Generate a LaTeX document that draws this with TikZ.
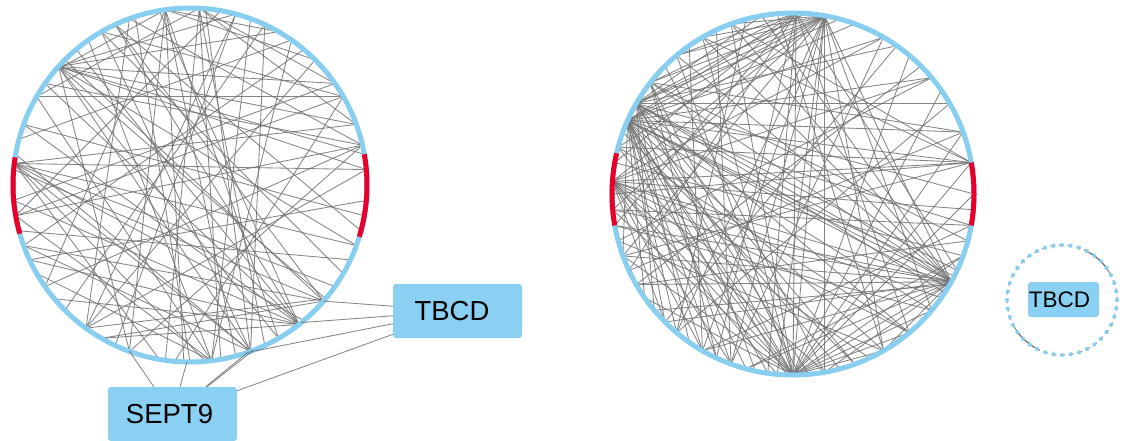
\documentclass[tikz,border=0pt]{standalone}
\usepackage{fontspec}
\setmainfont{Liberation Sans}
\definecolor{ringblue}{RGB}{135,206,240}
\definecolor{boxblue}{RGB}{137,208,242}
\definecolor{hotred}{RGB}{232,0,42}
\definecolor{edgegray}{RGB}{112,112,112}
\begin{document}
\begin{tikzpicture}[x=1pt,y=1pt,
  chord/.style={draw=edgegray,line width=0.85pt,opacity=0.85},
  ring/.style={draw=ringblue,line width=5pt},
  redarc/.style={draw=hotred,line width=5pt},
  genebox/.style={fill=boxblue,rounded corners=3pt,minimum width=129pt,minimum height=54pt,inner sep=0pt},
  smallbox/.style={fill=boxblue,rounded corners=3pt,minimum width=71pt,minimum height=35pt,inner sep=0pt}]
\useasboundingbox (0,0) rectangle (1128,-440);
\fill[white] (0,0) rectangle (1128,-440);

% ---------------- left cluster ----------------
\coordinate (cA) at (190,-185);
\foreach \i in {0,...,359} \coordinate (A\i) at ([shift={(\i:177)}]cA);

\foreach \b in {215,250,268,285,300,140,60,45}
  \draw[chord] (A98) -- (A\b);
\foreach \b in {262,280,295,150,35,20}
  \draw[chord] (A87) -- (A\b);
\foreach \b in {20,10,35,60,75,300,320,290,250,5,340}
  \draw[chord] (A138) -- (A\b);
\foreach \b in {5,340,325,310,290,275,260,20}
  \draw[chord] (A173) -- (A\b);
\foreach \b in {130,145,160,185,205,220,240,100,115}
  \draw[chord] (A308) -- (A\b);
\foreach \b in {125,150,190,210,70,55}
  \draw[chord] (A277) -- (A\b);
\foreach \b in {45,75,110,320,5}
  \draw[chord] (A234) -- (A\b);
\foreach \b in {110,145,190,215,250}
  \draw[chord] (A13) -- (A\b);
\foreach \b in {120,150,190,265}
  \draw[chord] (A30) -- (A\b);
\foreach \b in {115,135,175,200,240}
  \draw[chord] (A319) -- (A\b);
\foreach \b in {65,85,120,170,200}
  \draw[chord] (A290) -- (A\b);
\foreach \a/\b in {50/200,65/225,75/245,115/345,160/350,120/330,108/270,
                   195/335,205/355,55/165,35/185,80/190}
  \draw[chord] (A\a) -- (A\b);

\draw[ring] (cA) circle[radius=177];
\draw[redarc] ([shift={(171:177)}]cA) arc[start angle=171,end angle=196,radius=177];
\draw[redarc] ([shift={(-17:177)}]cA) arc[start angle=-17,end angle=10,radius=177];

\node[genebox] (tbcdA) at (457.5,-311) {};
\node at (452,-311) {\fontsize{27.5}{30}\selectfont TBCD};
\node[genebox] (sept) at (172.5,-414) {};
\node at (169.5,-414) {\fontsize{27.5}{30}\selectfont SEPT9};

\foreach \b in {319,309,289}
  \draw[chord] (A\b) -- (tbcdA);
\draw[chord] (tbcdA) -- (sept);
\foreach \b in {250,269,289,291}
  \draw[chord] (A\b) -- (sept);

% ---------------- right cluster ----------------
\coordinate (cB) at (793,-194);
\foreach \i in {0,...,359} \coordinate (B\i) at ([shift={(\i:181)}]cB);

\foreach \b in {331,329,333,320,300,285,270,268,262,255,245,240,230,225,215,80,89,70,60,40,20,10,350,200}
  \draw[chord] (B156) -- (B\b);
\foreach \b in {331,335,327,310,290,275,270,250,235,220,80,86,100,75,55,30,0}
  \draw[chord] (B150) -- (B\b);
\foreach \b in {331,272,258,245,80,89,20,345}
  \draw[chord] (B142) -- (B\b);
\foreach \b in {331,325,310,295,280,270,265,250,240,225,80,60,40,10,355}
  \draw[chord] (B176) -- (B\b);
\foreach \b in {331,320,300,280,270,265,250,240,230,200,185,165,130,120,110}
  \draw[chord] (B80) -- (B\b);
\foreach \b in {335,310,270,262,245,205,190,170,130,105}
  \draw[chord] (B89) -- (B\b);
\foreach \b in {331,0,10,20,35,50,300,310,320,340,120,130,110,200,215,165,185}
  \draw[chord] (B270) -- (B\b);
\foreach \b in {100,110,120,130,185,190,200,210,225,240,255,280,300}
  \draw[chord] (B331) -- (B\b);
\foreach \b in {200,180,165,120,110}
  \draw[chord] (B10) -- (B\b);
\foreach \a/\b in {40/195,45/210,55/225,60/250,20/205,30/230,115/250,125/240,
                   105/230,95/300,135/280,160/290,165/310,170/340,185/350,
                   190/320,195/300,210/345,220/330,240/350,255/340}
  \draw[chord] (B\a) -- (B\b);

\draw[ring] (cB) circle[radius=181];
\draw[redarc] ([shift={(167:181)}]cB) arc[start angle=167,end angle=190,radius=181];
\draw[redarc] ([shift={(-10:181)}]cB) arc[start angle=-10,end angle=10,radius=181];

% ---------------- small cluster ----------------
\coordinate (cC) at (1062,-300);
\foreach \i in {0,...,359} \coordinate (C\i) at ([shift={(\i:55)}]cC);
\draw[edgegray,line width=0.8pt,dash pattern=on 3pt off 5.64pt] (cC) circle[radius=55];
\foreach \a/\b in {30/45,38/52,45/60,52/66,210/225,218/232,225/240,232/246}
  \draw[chord,line width=1pt] (C\a) -- (C\b);
\draw[ringblue,line width=4.2pt,line cap=round,dash pattern=on 0pt off 8.64pt] (cC) circle[radius=55];
\node[smallbox] (tbcdC) at (1063.5,-299.5) {};
\node at (1059.5,-299.5) {\fontsize{22.5}{25}\selectfont TBCD};
\end{tikzpicture}
\end{document}
